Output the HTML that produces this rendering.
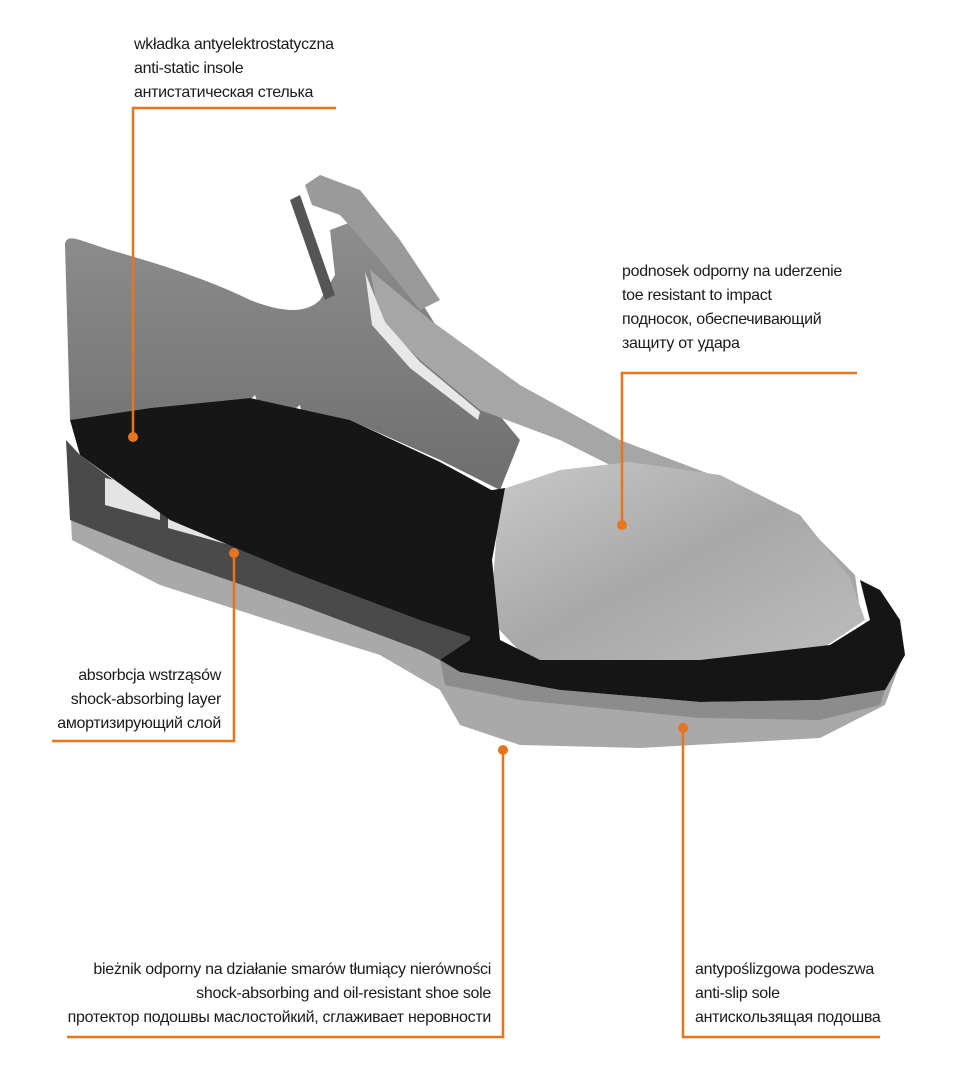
<!DOCTYPE html>
<html><head><meta charset="utf-8"><style>
html,body{margin:0;padding:0;background:#fff}
body{width:967px;height:1080px;position:relative;overflow:hidden;font-family:"Liberation Sans",sans-serif;font-size:16px;color:#1a1a1a}
.t{position:absolute;line-height:24px;white-space:nowrap;letter-spacing:-0.3px}
.r{text-align:right}
</style></head><body>
<svg width="967" height="1080" style="position:absolute;left:0;top:0">
<defs>
<linearGradient id="cap" x1="0" y1="0" x2="1" y2="1"><stop offset="0" stop-color="#c9c9c9"/><stop offset="0.5" stop-color="#a8a8a8"/><stop offset="1" stop-color="#bdbdbd"/></linearGradient>
<linearGradient id="knit" x1="0" y1="0" x2="0" y2="1"><stop offset="0" stop-color="#8e8e8e"/><stop offset="1" stop-color="#6e6e6e"/></linearGradient>
</defs>
<path d="M68,455 L72,540 L160,585 L300,630 L380,655 L440,690 L460,725 L520,745 L640,748 L820,738 L885,705 L905,650 L880,640 L700,660 L470,650 L300,600 L120,520 Z" fill="#a9a9a9"/>
<path d="M66,440 L70,520 L170,560 L300,605 L420,650 L450,665 L480,640 L300,575 L140,500 L80,455 Z" fill="#4a4a4a"/>
<path d="M105,478 L160,490 L160,520 L105,505 Z" fill="#e4e4e4"/>
<path d="M168,497 L230,512 L230,545 L168,528 Z" fill="#e4e4e4"/>
<path d="M65,245 Q65,235 80,240 L110,250 Q200,275 250,300 Q300,320 320,300 L335,275 L330,230 L370,215 L420,300 L470,380 L520,440 L500,490 L440,460 L350,420 L250,398 L150,408 L70,420 Z" fill="url(#knit)"/>
<path d="M305,185 L320,175 L360,190 L400,240 L440,300 L420,310 L380,260 L340,215 L312,205 Z" fill="#9a9a9a"/>
<path d="M290,200 L300,195 L335,295 L325,300 Z" fill="#555"/>
<path d="M240,410 L255,395 L262,415 Z" fill="#fff"/>
<path d="M275,425 L300,405 L305,430 Z" fill="#fff"/>
<path d="M370,270 L430,320 L520,385 L620,440 L720,478 L800,520 L855,575 L860,610 L810,600 L740,550 L640,480 L560,440 L480,410 L420,360 L380,320 Z" fill="#a6a6a6"/>
<path d="M365,272 L385,322 L420,362 L480,412 L478,420 L410,368 L372,325 Z" fill="#e8e8e8"/>
<path d="M70,420 L150,408 L250,398 L350,420 L440,462 L495,492 L480,640 L420,620 L300,575 L170,520 L80,455 Z" fill="#161616"/>
<path d="M500,490 L560,470 L630,462 L720,475 L800,515 L850,578 L865,620 L820,650 L700,660 L530,662 L490,620 Z" fill="url(#cap)"/>
<path d="M480,492 L505,488 L492,560 L500,640 L540,660 L700,660 L830,645 L870,620 L860,580 L880,590 L900,620 L905,655 L885,690 L820,700 L700,702 L560,690 L460,672 L440,660 L470,640 L470,560 Z" fill="#151515"/>
<path d="M440,660 L460,672 L560,690 L700,702 L820,700 L885,690 L880,705 L820,720 L700,718 L520,700 L445,685 Z" fill="#8c8c8c"/>
</svg>
<svg width="967" height="1080" style="position:absolute;left:0;top:0" fill="none" stroke="#e8741e" stroke-width="2.5">
<polyline points="336,108 133,108 133,437"/>
<polyline points="857,373 622,373 622,525"/>
<polyline points="52,741 234,741 234,553"/>
<polyline points="67,1037 503,1037 503,750"/>
<polyline points="880,1037 683,1037 683,728"/>
<g fill="#e8741e" stroke="none">
<circle cx="133" cy="437" r="5"/><circle cx="622" cy="525" r="5"/><circle cx="234" cy="553" r="5"/><circle cx="503" cy="750" r="5"/><circle cx="683" cy="728" r="5"/>
</g>
</svg>
<div class="t" style="left:134px;top:33px">wkładka antyelektrostatyczna<br>anti-static insole<br>антистатическая стелька</div>
<div class="t" style="left:622px;top:260px">podnosek odporny na uderzenie<br>toe resistant to impact<br>подносок, обеспечивающий<br>защиту от удара</div>
<div class="t r" style="right:746px;top:664px">absorbcja wstrząsów<br>shock-absorbing layer<br>амортизирующий слой</div>
<div class="t r" style="right:476px;top:958px">bieżnik odporny na działanie smarów tłumiący nierówności<br>shock-absorbing and oil-resistant shoe sole<br>протектор подошвы маслостойкий, сглаживает неровности</div>
<div class="t" style="left:695px;top:958px">antypoślizgowa podeszwa<br>anti-slip sole<br>антискользящая подошва</div>
</body></html>
